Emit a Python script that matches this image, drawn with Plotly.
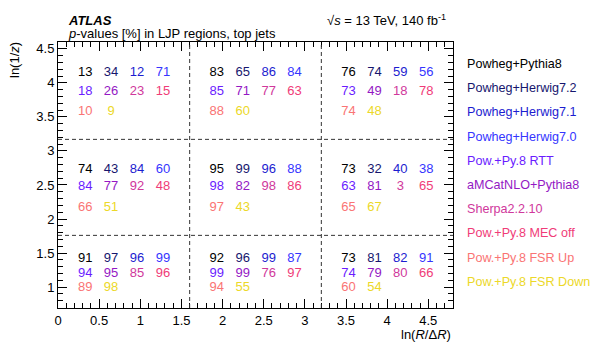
"""
LJP p-value table: per-generator p-values [%] drawn as text in 3x3 regions
of the (ln(R/dR), ln(1/z)) plane, ATLAS style.
"""

import plotly.graph_objects as go

# p-values [%] per generator; cells ordered top row (left -> right),
# middle row, bottom row
generators = [
    "Powheg+Pythia8",
    "Powheg+Herwig7.2",
    "Powheg+Herwig7.1",
    "Powheg+Herwig7.0",
    "Pow.+Py.8 RTT",
    "aMCatNLO+Pythia8",
    "Sherpa2.2.10",
    "Pow.+Py.8 MEC off",
    "Pow.+Py.8 FSR Up",
    "Pow.+Py.8 FSR Down",
]
powheg_pythia8 = [13, 83, 76, 74, 95, 73, 91, 92, 73]
powheg_herwig72 = [34, 65, 74, 43, 99, 32, 97, 96, 81]
powheg_herwig71 = [12, 86, 59, 84, 96, 40, 96, 99, 82]
powheg_herwig70 = [71, 84, 56, 60, 88, 38, 99, 87, 91]
pow_py8_rtt = [18, 85, 73, 84, 98, 63, 94, 99, 74]
amcatnlo_pythia8 = [26, 71, 49, 77, 82, 81, 95, 99, 79]
sherpa2210 = [23, 77, 18, 92, 98, 3, 85, 76, 80]
pow_py8_mec_off = [15, 63, 78, 48, 86, 65, 96, 97, 66]
pow_py8_fsr_up = [10, 88, 74, 66, 97, 65, 89, 94, 60]
pow_py8_fsr_down = [9, 60, 48, 51, 43, 67, 98, 55, 54]

values = [
    powheg_pythia8, powheg_herwig72, powheg_herwig71, powheg_herwig70,
    pow_py8_rtt, amcatnlo_pythia8, sherpa2210, pow_py8_mec_off,
    pow_py8_fsr_up, pow_py8_fsr_down,
]
colors = [
    "#000000", "#16166e", "#1c1cd0", "#3535ff", "#6a1cff",
    "#9418c4", "#d0389c", "#f03c78", "#fa7474", "#ecd828",
]

# region boundaries
x_edges = [0.0, 1.6, 3.2, 4.8]
y_splits = [1.76, 3.17]

# text layout inside each cell
col_offset = 0.33
col_step = 0.315
row_y = [  # per region row (top, middle, bottom): y of the three text lines
    [4.15, 3.87, 3.57],
    [2.73, 2.47, 2.17],
    [1.42, 1.20, 0.99],
]

FONT = "Liberation Sans, Arial, Helvetica, sans-serif"

# plot area in page pixels (page has an 8px body margin)
PX_L, PX_R, PX_T, PX_B = 58, 453, 42, 308


def px_to_paper(xp, yp):
    return (xp - PX_L) / (PX_R - PX_L), (PX_B - yp) / (PX_B - PX_T)


fig = go.Figure()

for g, (name, vals, col) in enumerate(zip(generators, values, colors)):
    line = 0 if g < 4 else (1 if g < 8 else 2)
    pos = g if g < 4 else (g - 4 if g < 8 else g - 8)
    xs, ys, txt = [], [], []
    for cell, v in enumerate(vals):
        r, c = divmod(cell, 3)
        xs.append(x_edges[c] + col_offset + pos * col_step)
        ys.append(row_y[r][line])
        txt.append(str(v))
    fig.add_trace(go.Scatter(
        x=xs, y=ys, text=txt, mode="text", name=name,
        textfont=dict(family=FONT, size=13, color=col),
        textposition="middle center", hoverinfo="skip", showlegend=False,
    ))

# dashed region boundaries
dash_line = dict(color="#333", width=1, dash="4px,3px")
for xv in x_edges[1:-1]:
    fig.add_shape(type="line", x0=xv, x1=xv, y0=0.693, y1=4.6, xref="x", yref="y",
                  line=dash_line)
for yv in y_splits:
    fig.add_shape(type="line", x0=0, x1=4.8, y0=yv, y1=yv, xref="x", yref="y",
                  line=dash_line)

# generator legend as coloured text on the right
for i, (name, col) in enumerate(zip(generators, colors)):
    ax, ay = px_to_paper(465, 64 + i * 24.2)
    fig.add_annotation(
        x=ax, y=ay, xref="paper", yref="paper", text=name, showarrow=False,
        xanchor="left", yanchor="middle",
        font=dict(family=FONT, size=12.6, color=col),
    )

black13 = dict(family=FONT, size=13, color="black")
x, y = px_to_paper(66, 20)
fig.add_annotation(x=x, y=y, xref="paper", yref="paper", text="<b><i>ATLAS</i></b>",
                   showarrow=False, xanchor="left", yanchor="middle", font=black13)
x, y = px_to_paper(66, 33)
fig.add_annotation(x=x, y=y, xref="paper", yref="paper",
                   text="<i>p</i>-values [%] in LJP regions, top jets",
                   showarrow=False, xanchor="left", yanchor="middle", font=black13)
x, y = px_to_paper(448, 20)
fig.add_annotation(x=x, y=y, xref="paper", yref="paper",
                   text="√<i>s</i> = 13 TeV, 140 fb<sup>-1</sup>",
                   showarrow=False, xanchor="right", yanchor="middle", font=black13)
x, y = px_to_paper(453, 334)
fig.add_annotation(x=x, y=y, xref="paper", yref="paper",
                   text="ln(<i>R</i>/Δ<i>R</i>)",
                   showarrow=False, xanchor="right", yanchor="middle", font=black13)
x, y = px_to_paper(15, 40)
fig.add_annotation(x=x, y=y, xref="paper", yref="paper",
                   text="ln(1/<i>z</i>)", textangle=-90,
                   showarrow=False, xanchor="center", yanchor="top", font=black13)

axis_common = dict(
    showgrid=False, zeroline=False, showline=True, linecolor="black", linewidth=1,
    mirror="allticks", ticks="inside", ticklen=9, tickcolor="black",
    tickfont=black13,
)
fig.update_xaxes(range=[0, 4.8], dtick=0.5, tick0=0,
                 minor=dict(dtick=0.1, ticks="inside", ticklen=5, tickcolor="black"),
                 **axis_common)
fig.update_yaxes(range=[0.693, 4.6], dtick=0.5, tick0=0,
                 minor=dict(dtick=0.1, ticks="inside", ticklen=5, tickcolor="black"),
                 **axis_common)

# figure is 8px smaller than the window to allow for the page's body margin
fig.update_layout(
    width=590, height=337,
    margin=dict(l=PX_L - 8, r=598 - PX_R, t=PX_T - 8, b=345 - PX_B),
    plot_bgcolor="white", paper_bgcolor="white",
    font=black13,
)

fig.write_html("out.html")
